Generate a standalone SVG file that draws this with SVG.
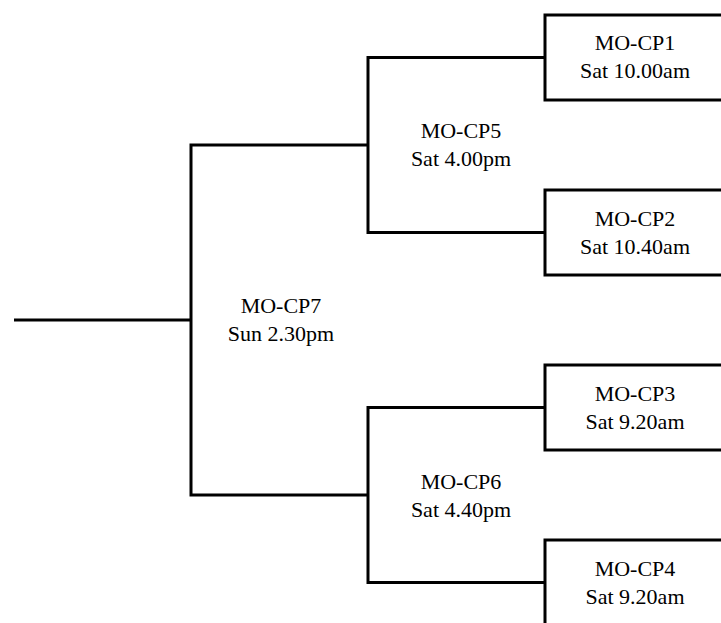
<svg xmlns="http://www.w3.org/2000/svg" width="721" height="623" viewBox="0 0 721 623">
<style>
.ln{fill:none;stroke:#000;stroke-width:3;stroke-linejoin:miter;stroke-linecap:butt}
.bx{fill:#fff;stroke:#000;stroke-width:3}
text{font-family:'Liberation Serif','Times New Roman','DejaVu Serif',serif;font-size:22px;fill:#000;text-anchor:middle}
</style>
<rect width="721" height="623" fill="#fff"/>
<g id="connectors">
<path class="ln" d="M14,320 H191"/>
<path class="ln" d="M368,145 H191 V495 H368"/>
<path class="ln" d="M545,57.5 H368 V232.5 H545"/>
<path class="ln" d="M545,407.5 H368 V582.5 H545"/>
</g>
<g id="cp7" font-family="Liberation Serif, serif">
<text x="281" y="313">MO-CP7</text>
<text x="281" y="341">Sun 2.30pm</text>
</g>
<g id="cp5">
<text x="461" y="138">MO-CP5</text>
<text x="461" y="166">Sat 4.00pm</text>
</g>
<g id="cp6">
<text x="461" y="489">MO-CP6</text>
<text x="461" y="517">Sat 4.40pm</text>
</g>
<g id="cp1">
<rect class="bx" x="545" y="15" width="200" height="85"/>
<text x="635" y="50">MO-CP1</text>
<text x="635" y="78">Sat 10.00am</text>
</g>
<g id="cp2">
<rect class="bx" x="545" y="190" width="200" height="85"/>
<text x="635" y="225.5">MO-CP2</text>
<text x="635" y="253.5">Sat 10.40am</text>
</g>
<g id="cp3">
<rect class="bx" x="545" y="365" width="200" height="85"/>
<text x="635" y="400.5">MO-CP3</text>
<text x="635" y="428.5">Sat 9.20am</text>
</g>
<g id="cp4">
<rect class="bx" x="545" y="540" width="200" height="85"/>
<text x="635" y="575.5">MO-CP4</text>
<text x="635" y="603.5">Sat 9.20am</text>
</g>
</svg>
